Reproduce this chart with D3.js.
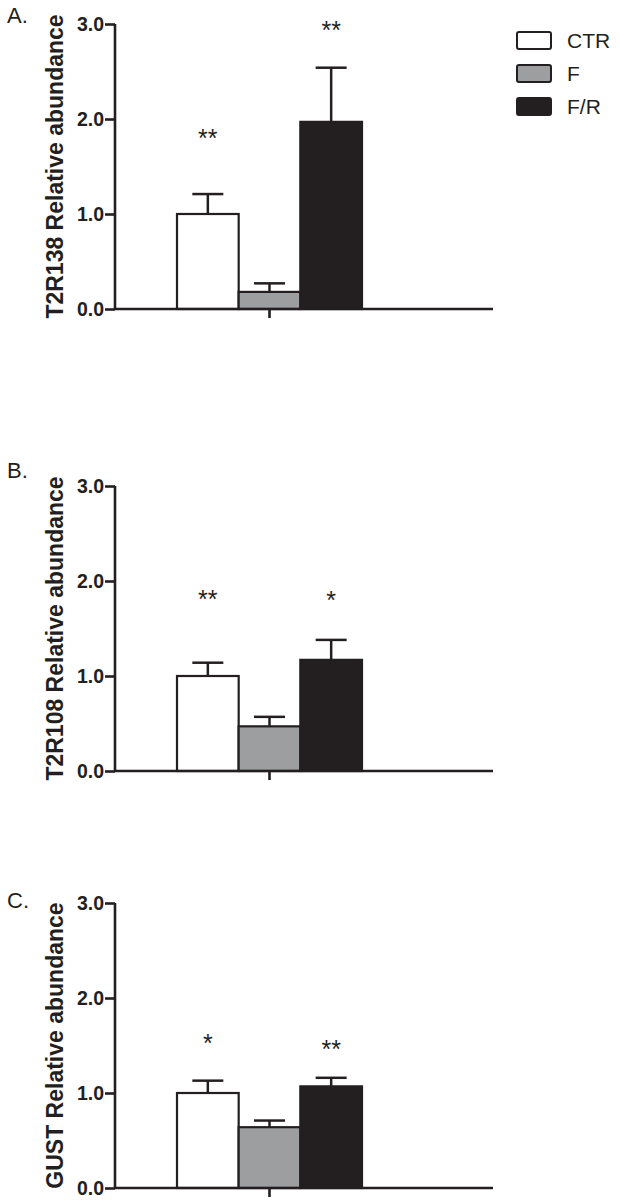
<!DOCTYPE html>
<html>
<head>
<meta charset="utf-8">
<script src="https://cdn.jsdelivr.net/npm/d3@7"></script>
<style>
  body { margin: 0; background: #fff; }
  svg { display: block; }
  text { font-family: "Liberation Sans", Arial, sans-serif; fill: #231f20; }
</style>
</head>
<body>
<svg width="620" height="1204"></svg>
<script>
// groups and legend
var groups = ["CTR", "F", "F/R"];
var fills = ["#ffffff", "#9d9ea0", "#231f20"];

// panels
var panelLetters = ["A.", "B.", "C."];
var yLabels = ["T2R138 Relative abundance", "T2R108 Relative abundance", "GUST Relative abundance"];
var yTicks = [0, 1, 2, 3];

// means and upper error per panel (CTR, F, F/R)
var meansA = [1.00, 0.18, 1.97];
var errTopA = [1.21, 0.27, 2.54];
var starsA = ["**", "", "**"];
var starYA = [1.86, 0, 2.99];

var meansB = [1.00, 0.47, 1.17];
var errTopB = [1.14, 0.57, 1.38];
var starsB = ["**", "", "*"];
var starYB = [1.87, 0, 1.86];

var meansC = [1.00, 0.64, 1.07];
var errTopC = [1.13, 0.71, 1.16];
var starsC = ["*", "", "**"];
var starYC = [1.58, 0, 1.52];

var panels = [
  { means: meansA, err: errTopA, stars: starsA, starY: starYA },
  { means: meansB, err: errTopB, stars: starsB, starY: starYB },
  { means: meansC, err: errTopC, stars: starsC, starY: starYC }
];

// layout
var panelTop = [24, 486, 903];
var letterY = [15, 470, 900];
var plotH = 285;
var axisX = 115, axisEnd = 493;
var bandLeft = 177, bandRight = 362;

var svg = d3.select("svg");
var ink = "#231f20";

var x = d3.scaleBand().domain(groups).range([bandLeft, bandRight]).padding(0);
var color = d3.scaleOrdinal().domain(groups).range(fills);

panels.forEach(function(p, i) {
  var top = panelTop[i];
  var y = d3.scaleLinear().domain([0, 3]).range([top + plotH, top]);
  var g = svg.append("g");

  // panel letter
  g.append("text")
      .attr("x", 7)
      .attr("y", letterY[i])
      .attr("dy", "0.36em")
      .style("font-size", "22px")
      .text(panelLetters[i]);

  var data = groups.map(function(k, j) {
    return { key: k, mean: p.means[j], err: p.err[j], star: p.stars[j], starY: p.starY[j] };
  });

  // error bars (upper only)
  var eb = g.append("g").selectAll("g").data(data).enter().append("g");
  eb.append("line")
      .attr("x1", function(d) { return x(d.key) + x.bandwidth() / 2; })
      .attr("x2", function(d) { return x(d.key) + x.bandwidth() / 2; })
      .attr("y1", function(d) { return y(d.mean); })
      .attr("y2", function(d) { return y(d.err); })
      .attr("stroke", ink).attr("stroke-width", 2.5);
  eb.append("line")
      .attr("x1", function(d) { return x(d.key) + x.bandwidth() / 2 - 15.5; })
      .attr("x2", function(d) { return x(d.key) + x.bandwidth() / 2 + 15.5; })
      .attr("y1", function(d) { return y(d.err); })
      .attr("y2", function(d) { return y(d.err); })
      .attr("stroke", ink).attr("stroke-width", 2.5);

  // bars
  g.append("g").selectAll("rect").data(data).enter().append("rect")
      .attr("x", function(d) { return x(d.key); })
      .attr("y", function(d) { return y(d.mean); })
      .attr("width", x.bandwidth())
      .attr("height", function(d) { return y(0) - y(d.mean); })
      .attr("fill", function(d) { return color(d.key); })
      .attr("stroke", ink)
      .attr("stroke-width", 2.2);

  // significance stars
  g.append("g").selectAll("text").data(data.filter(function(d) { return d.star; })).enter().append("text")
      .attr("x", function(d) { return x(d.key) + x.bandwidth() / 2; })
      .attr("y", function(d) { return y(d.starY); })
      .attr("dy", "0.57em")
      .attr("text-anchor", "middle")
      .style("font-size", "25px")
      .text(function(d) { return d.star; });

  // y axis
  var yAxis = g.append("g")
      .attr("transform", "translate(" + axisX + ",0)")
      .call(d3.axisLeft(y).tickValues(yTicks).tickFormat(d3.format(".1f")).tickSize(10).tickPadding(1));
  yAxis.select(".domain").attr("stroke", ink).attr("stroke-width", 2.6)
      .attr("d", "M0," + (top + plotH) + "V" + top);
  yAxis.selectAll(".tick line").attr("stroke", ink).attr("stroke-width", 2.6);
  yAxis.selectAll(".tick text")
      .style("font-family", "'Liberation Sans', Arial, sans-serif")
      .style("font-size", "19.5px")
      .style("font-weight", "bold")
      .attr("fill", ink);

  // x axis line with a single centre tick
  g.append("line")
      .attr("x1", axisX).attr("x2", axisEnd)
      .attr("y1", y(0)).attr("y2", y(0))
      .attr("stroke", ink).attr("stroke-width", 2.6);
  var cx = (bandLeft + bandRight) / 2;
  g.append("line")
      .attr("x1", cx).attr("x2", cx)
      .attr("y1", y(0)).attr("y2", y(0) + 9)
      .attr("stroke", ink).attr("stroke-width", 2.6);

  // y label
  g.append("text")
      .attr("transform", "translate(55," + (top + plotH / 2) + ") rotate(-90)")
      .attr("text-anchor", "middle")
      .attr("dy", "0.36em")
      .style("font-size", "23px")
      .style("font-weight", "bold")
      .text(yLabels[i]);
});

// legend
var legend = svg.append("g").attr("transform", "translate(517,32)");
var item = legend.selectAll("g").data(groups).enter().append("g")
    .attr("transform", function(d, i) { return "translate(0," + i * 33 + ")"; });
item.append("rect")
    .attr("width", 34).attr("height", 17).attr("rx", 2)
    .attr("fill", function(d) { return color(d); })
    .attr("stroke", ink).attr("stroke-width", 2);
item.append("text")
    .attr("x", 50).attr("y", 8.5).attr("dy", "0.36em")
    .style("font-size", "21px")
    .text(function(d) { return d; });
</script>
</body>
</html>
